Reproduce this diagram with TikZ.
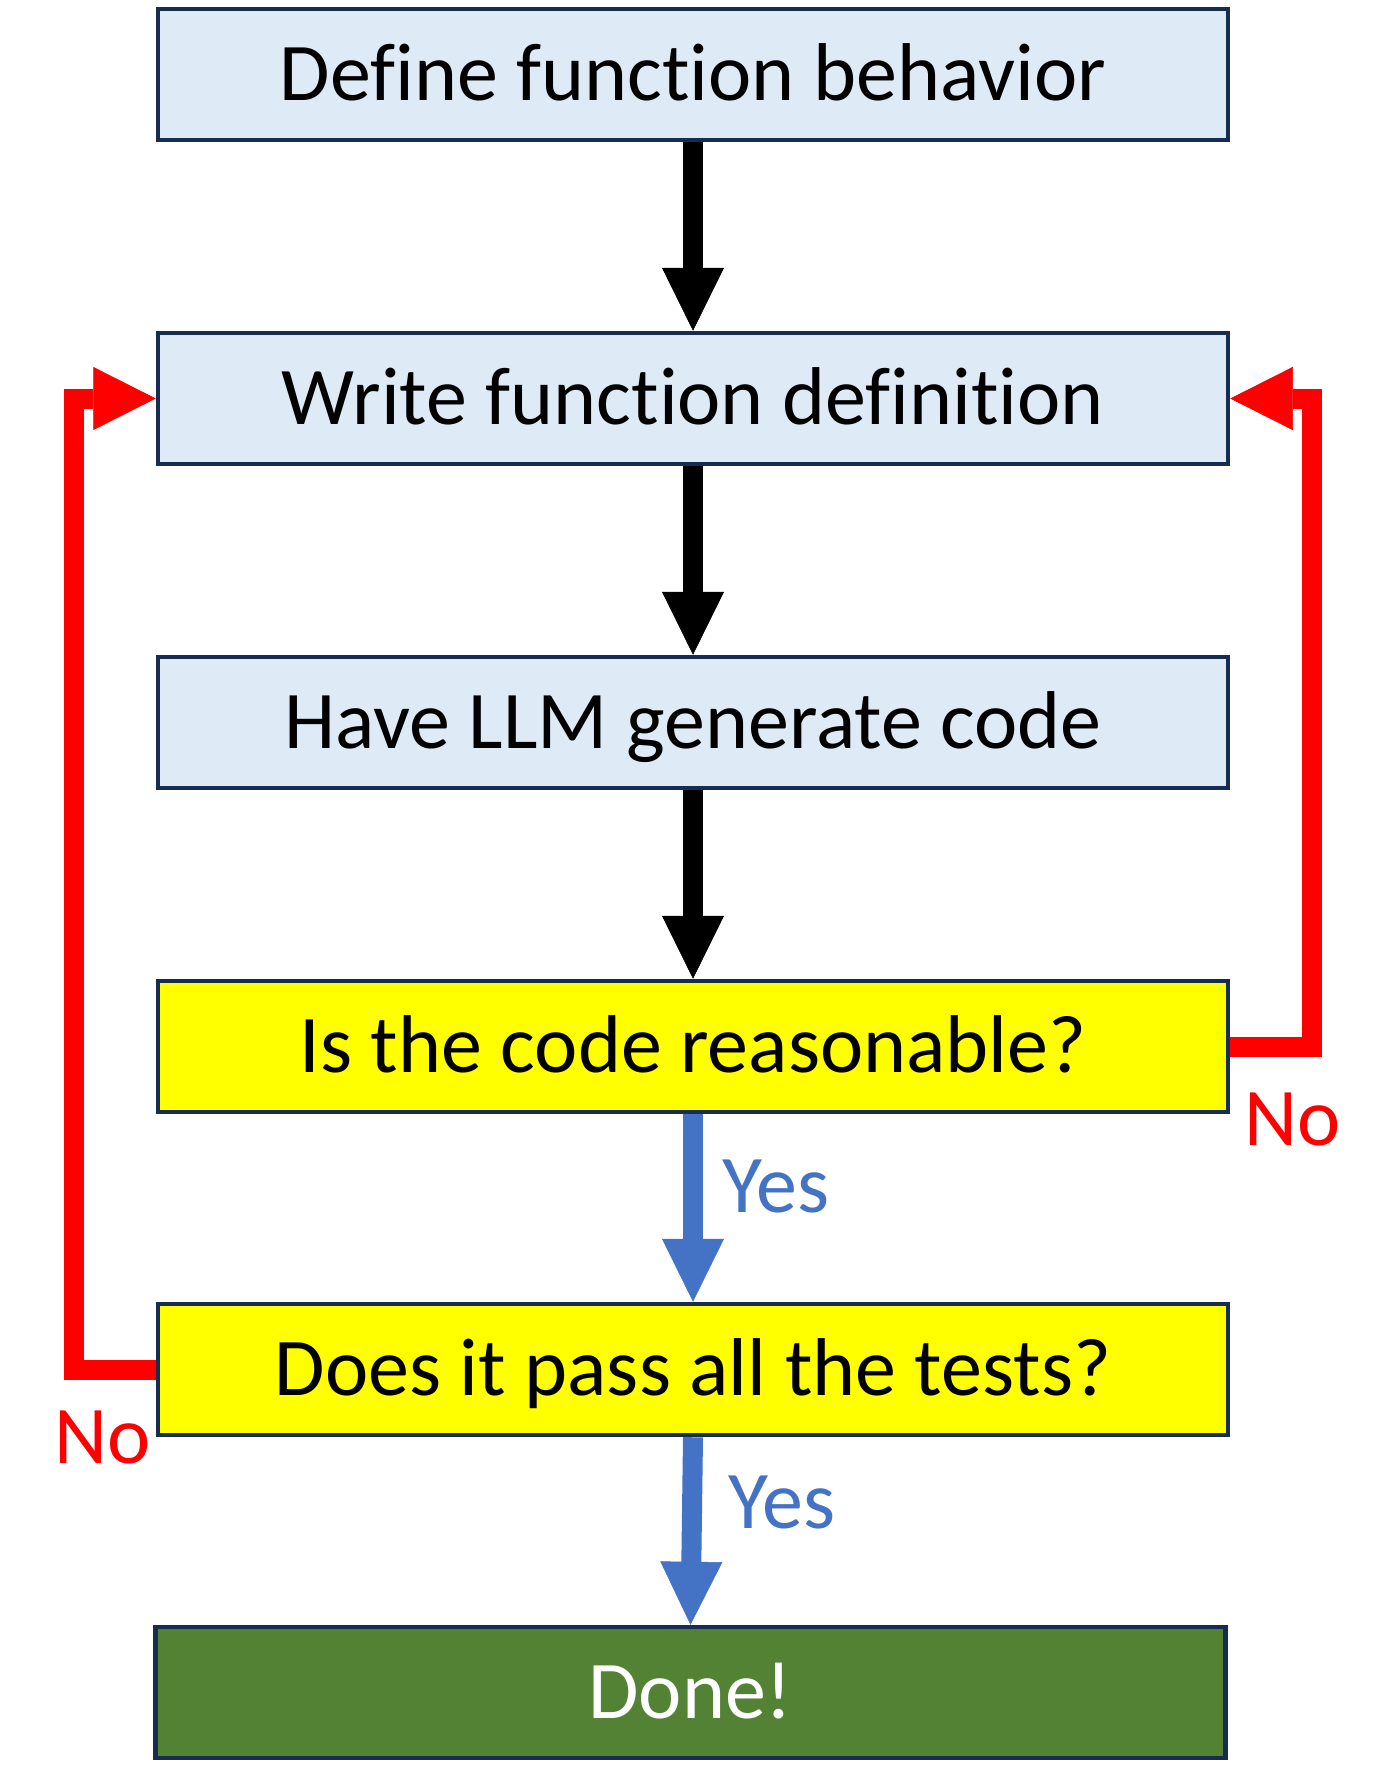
\documentclass[tikz,border=0pt]{standalone}
\usepackage{fontspec}
\setmainfont{Carlito}[RawFeature={-liga;-clig;-rlig;-calt;-dlig}]
\usetikzlibrary{arrows.meta}
\definecolor{boxblue}{HTML}{DEEBF7}
\definecolor{boxline}{HTML}{172C51}
\definecolor{donegreen}{HTML}{548235}
\definecolor{yesblue}{HTML}{4472C4}
\definecolor{nored}{HTML}{FF0000}
\definecolor{askyellow}{HTML}{FFFF00}
\begin{document}
\begin{tikzpicture}[x=1pt,y=-1pt,
  box/.style={draw=boxline, line width=4.5pt, minimum width=1070pt, minimum height=131pt,
    inner sep=0pt, font=\fontsize{82}{98}\selectfont, text height=52pt, text depth=0pt},
  stepbox/.style={box, fill=boxblue},
  askbox/.style={box, fill=askyellow},
  donebox/.style={box, fill=donegreen, text=white},
  flow/.style={line width=20pt, -{Triangle[length=63pt,width=62pt,line width=0.5pt]}},
  blackflow/.style={flow, draw=black},
  yesflow/.style={flow, draw=yesblue},
  noflow/.style={line width=20pt, draw=nored, line join=miter,
    -{Triangle[length=62.5pt,width=63pt,line width=0.5pt]}},
  lbl/.style={font=\fontsize{82}{98}\selectfont, inner sep=0pt, anchor=base west},
]
\useasboundingbox (0,0) rectangle (1388,1791);
\node[stepbox] (b1) at (693,74.5) {Define function behavior};
\node[stepbox] (b2) at (693,398.5) {Write function definition};
\node[stepbox] (b3) at (693,722.5) {Have LLM generate code};
\node[askbox]  (b4) at (693,1046.5) {Is the code reasonable?};
\node[askbox]  (b5) at (693,1369.5) {Does it pass all the tests?};
\node[donebox] (b6) at (690.5,1692.5) {Done!};

\draw[blackflow] (b1.south) -- (b2.north);
\draw[blackflow] (b2.south) -- (b3.north);
\draw[blackflow] (b3.south) -- (b4.north);
\draw[yesflow] (b4.south) -- (b5.north);
\draw[yesflow] (b5.south) -- (b6.north);

\draw[noflow] (b4.east) -- ++(81.5,0) |- (b2.east);
\draw[noflow] (b5.west) -- ++(-82,0) |- (b2.west);

\node[lbl, text=yesblue] (y1) at (722,1212) {Yes};
\node[lbl, text=yesblue] (y2) at (728,1528) {Yes};
\node[lbl, text=nored] (n1) at (1244,1145) {No};
\node[lbl, text=nored] (n2) at (54,1463) {No};
\end{tikzpicture}
\end{document}
